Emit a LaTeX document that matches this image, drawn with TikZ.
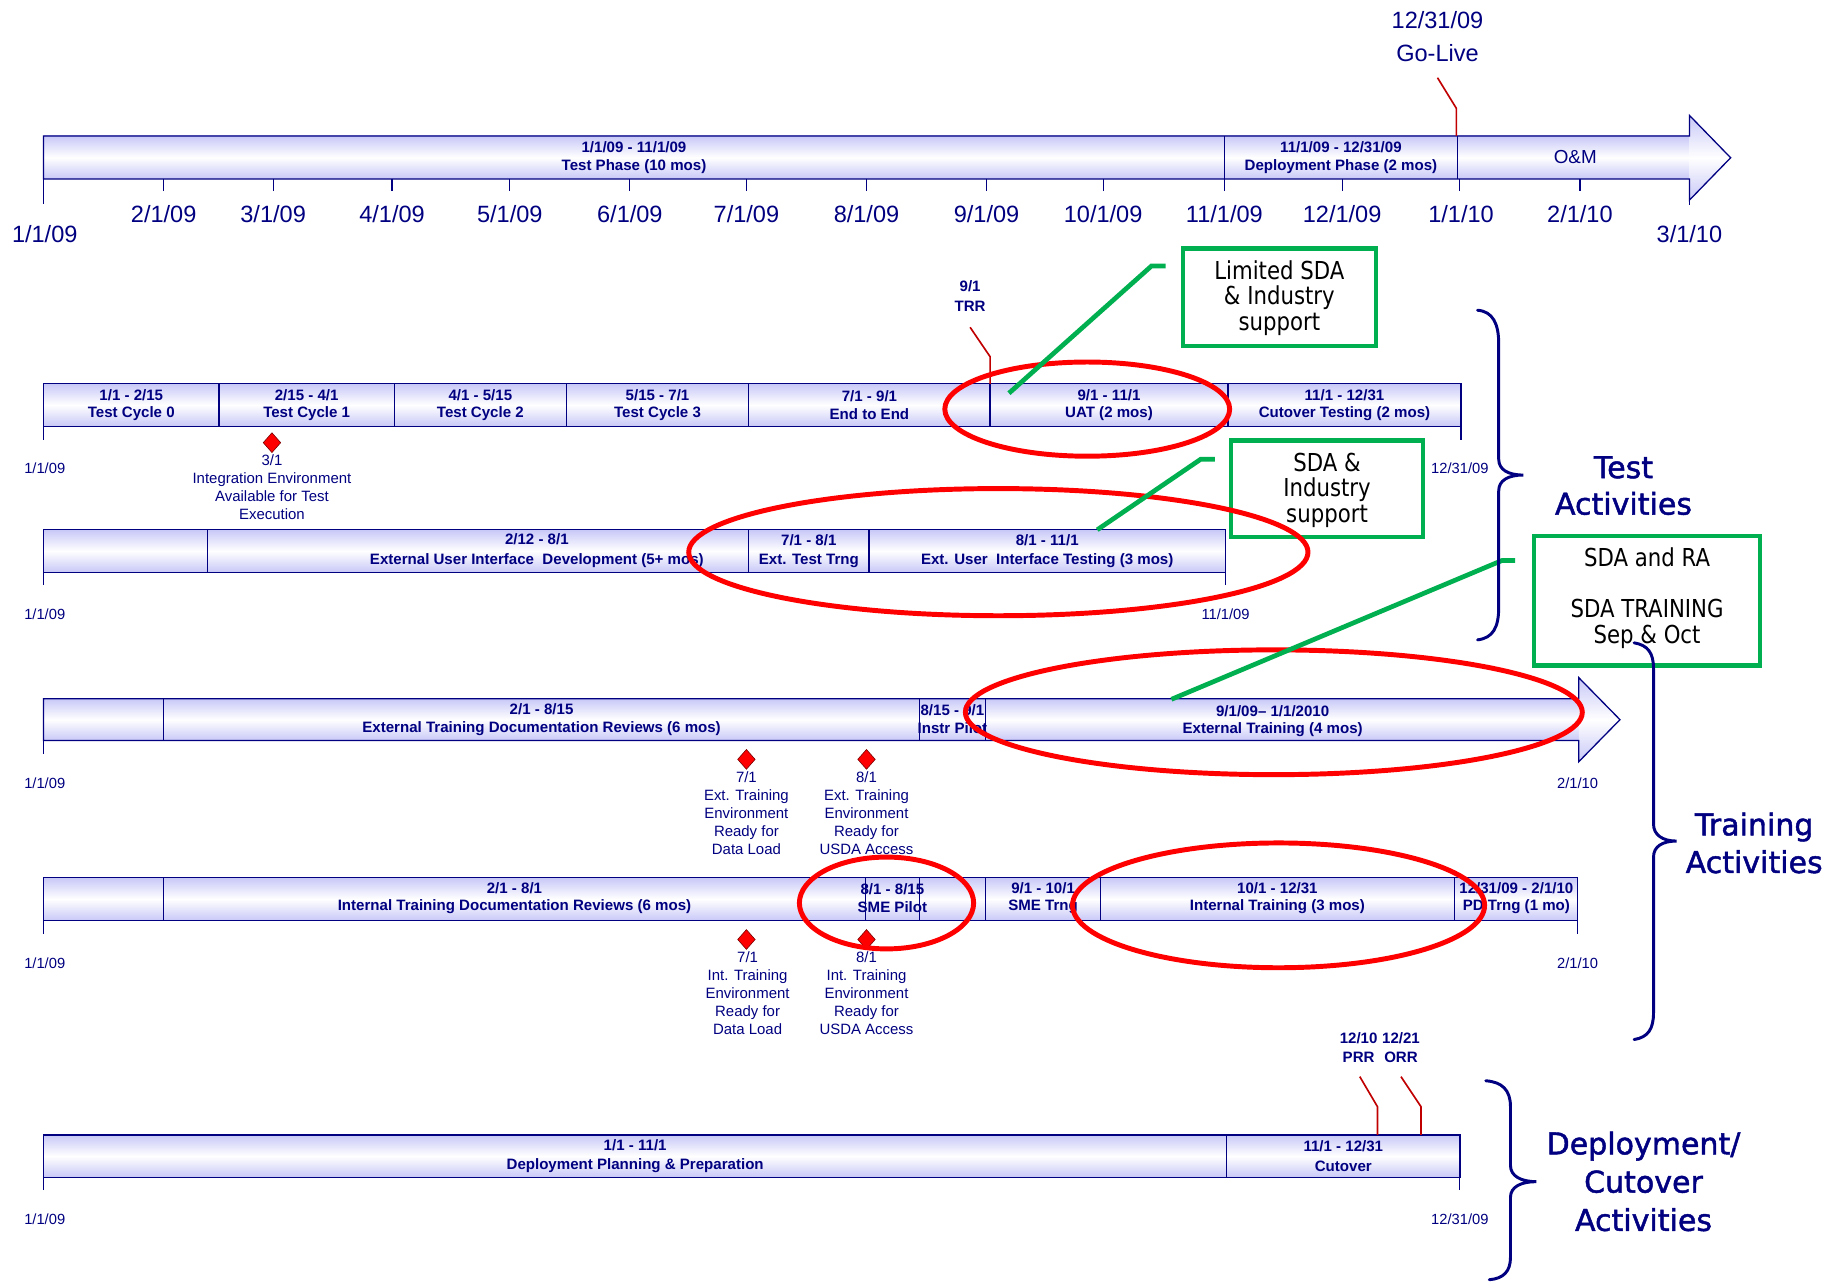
\documentclass[tikz,border=0pt]{standalone}
\usepackage{fontspec}
\setmainfont{Liberation Sans}
\newfontfamily\boxfont[FakeStretch=0.86]{DejaVu Sans}
\newfontfamily\bracefont[FakeBold=1.5]{DejaVu Sans}
\usetikzlibrary{shapes.geometric}
\definecolor{navy}{RGB}{0,0,128}
\definecolor{lav}{RGB}{200,200,248}
\definecolor{dred}{RGB}{192,0,0}
\definecolor{ddred}{RGB}{120,0,0}
\definecolor{hlred}{RGB}{255,0,0}
\definecolor{hlgreen}{RGB}{0,176,80}
\tikzset{
  shd/.style={top color=lav, bottom color=lav, middle color=white},
  segbar/.style={draw=navy, line width=1.1pt, top color=lav, bottom color=lav, middle color=white},
  outl/.style={draw=navy, line width=1.1pt, line join=miter},
  divl/.style={draw=navy, line width=1pt},
  barlbl/.style={text=navy, font=\fontsize{12.8}{15}\selectfont\bfseries, align=center, inner sep=0pt},
  datelbl/.style={text=navy, font=\fontsize{12.5}{15}\selectfont, inner sep=0pt},
  bigdate/.style={text=navy, font=\fontsize{20}{26}\selectfont, inner sep=0pt, align=center},
  tickl/.style={draw=navy, line width=1pt},
  mline/.style={draw=dred, line width=1.4pt},
  mslbl/.style={text=navy, font=\fontsize{12.8}{16.5}\selectfont\bfseries, align=center, inner sep=0pt},
  diam/.style={diamond, fill=red, draw=ddred, line width=0.5pt, minimum width=15pt, minimum height=17pt, inner sep=0pt},
  mstext/.style={text=navy, font=\fontsize{12.7}{15.3}\selectfont, align=center, inner sep=0pt, anchor=north},
  hl/.style={draw=hlred, line width=4.2pt},
  gbox/.style={draw=hlgreen, line width=3.6pt, inner sep=0pt},
  gtext/.style={text=black, font=\boxfont\fontsize{21}{21.6}\selectfont, align=center, inner sep=0pt},
  gline/.style={draw=hlgreen, line width=4pt},
  bracel/.style={draw=navy, line width=2.5pt, line cap=round},
  bracelbl/.style={text=navy, font=\bracefont\fontsize{25.5}{31}\selectfont, align=center, inner sep=0pt}
}
\begin{document}
\begin{tikzpicture}[x=1pt,y=-1pt]
\useasboundingbox (0,0) rectangle (1568,1089);

% ===== top timeline =====
\path[shd] (37,115.5) rectangle (1436,152);
\path[shd] (1435,98) -- (1470,134) -- (1435,170) -- cycle;
\draw[outl] (37,115.5) -- (1435,115.5) -- (1435,98) -- (1470,134) -- (1435,170) -- (1435,152) -- (37,152) -- cycle;
\draw[divl] (1040,115.5) -- (1040,152);
\draw[divl] (1238,115.5) -- (1238,152);
\foreach \x in {139,232,333,433,535,634,736,838,937,1040,1140,1240,1342}
  \draw[tickl] (\x,152) -- (\x,162);
\draw[tickl] (37,152) -- (37,173);
\draw[tickl] (1435,170) -- (1435,174);
\node[barlbl] (tp) at (538.5,134) {1/1/09 - 11/1/09\\Test Phase (10 mos)};
\node[barlbl] (dp) at (1139,134) {11/1/09 - 12/31/09\\Deployment Phase (2 mos)};
\node[text=navy, font=\fontsize{16}{18}\selectfont, inner sep=0pt] (om) at (1338,133) {O\&M};

\node[bigdate] (d01) at (38,199) {1/1/09};
\node[bigdate] (d02) at (139,182) {2/1/09};
\node[bigdate] (d03) at (232,182) {3/1/09};
\node[bigdate] (d04) at (333,182) {4/1/09};
\node[bigdate] (d05) at (433,182) {5/1/09};
\node[bigdate] (d06) at (535,182) {6/1/09};
\node[bigdate] (d07) at (634,182) {7/1/09};
\node[bigdate] (d08) at (736,182) {8/1/09};
\node[bigdate] (d09) at (838,182) {9/1/09};
\node[bigdate] (d10) at (937,182) {10/1/09};
\node[bigdate] (d11) at (1040,182) {11/1/09};
\node[bigdate] (d12) at (1140,182) {12/1/09};
\node[bigdate] (d13) at (1241,182) {1/1/10};
\node[bigdate] (d14) at (1342,182) {2/1/10};
\node[bigdate] (d15) at (1435,199) {3/1/10};

% Go-Live
\node[bigdate, font=\fontsize{20}{27.5}\selectfont] (golive) at (1221,31) {12/31/09\\Go-Live};
\coordinate (gl1) at (1221,66);
\coordinate (gl2) at (1237,92);
\coordinate (gl3) at (1237,115.5);
\draw[mline] (gl1) -- (gl2) -- (gl3);

% ===== row 1: test cycles =====
\foreach \a/\b in {37/186,186/335,335/481,481/636,636/841,841/1043,1043/1241}
  \path[segbar] (\a,326) rectangle (\b,362);
\draw[tickl] (37,362) -- (37,374);
\draw[tickl] (1241,362) -- (1241,374);
\node[barlbl] (tc0) at (111.5,344) {1/1 - 2/15\\Test Cycle 0};
\node[barlbl] (tc1) at (260.5,344) {2/15 - 4/1\\Test Cycle 1};
\node[barlbl] (tc2) at (408,344) {4/1 - 5/15\\Test Cycle 2};
\node[barlbl] (tc3) at (558.5,344) {5/15 - 7/1\\Test Cycle 3};
\node[barlbl] (e2e) at (738.5,344) {7/1 - 9/1\\End to End};
\node[barlbl] (uat) at (942,344) {9/1 - 11/1\\UAT (2 mos)};
\node[barlbl] (cot) at (1142,344) {11/1 - 12/31\\Cutover Testing (2 mos)};
\node[datelbl] (r1a) at (38,398) {1/1/09};
\node[datelbl] (r1b) at (1240,398) {12/31/09};
\node[mslbl] (trr) at (824,251.5) {9/1\\TRR};
\coordinate (tr1) at (824,278);
\coordinate (tr2) at (841,303);
\coordinate (tr3) at (841,326);
\draw[mline] (tr1) -- (tr2) -- (tr3);
\node[diam] (ms1) at (231,376) {};
\node[mstext] (ms1t) at (231,386) {3/1\\Integration Environment\\Available for Test\\Execution};

% ===== row 2: external UI =====
\foreach \a/\b in {37/176,176/636,636/738,738/1041}
  \path[segbar] (\a,450) rectangle (\b,486);
\draw[tickl] (37,486) -- (37,497);
\draw[tickl] (1041,486) -- (1041,497);
\node[barlbl, font=\fontsize{12.8}{17}\selectfont\bfseries] (eui) at (456,468) {2/12 - 8/1\\External User Interface\ \ Development (5+ mos)};
\node[barlbl, font=\fontsize{12.8}{16}\selectfont\bfseries] (ett) at (687,468) {7/1 - 8/1\\Ext. Test Trng};
\node[barlbl, font=\fontsize{12.8}{16}\selectfont\bfseries] (euit) at (889.5,468) {8/1 - 11/1\\Ext. User\ \ Interface Testing (3 mos)};
\node[datelbl] (r2a) at (38,522) {1/1/09};
\node[datelbl] (r2b) at (1041,522) {11/1/09};

% ===== row 3: external training (arrow) =====
\path[shd] (37,593.5) rectangle (1342,629);
\path[shd] (1341,575.6) -- (1376,611.3) -- (1341,647) -- cycle;
\draw[outl] (37,593.5) -- (1341,593.5) -- (1341,575.6) -- (1376,611.3) -- (1341,647) -- (1341,629) -- (37,629) -- cycle;
\foreach \x in {139,781,837} \draw[divl] (\x,593.5) -- (\x,629);
\draw[tickl] (37,629) -- (37,640.5);
\node[barlbl] (etd) at (460,611) {2/1 - 8/15\\External Training Documentation Reviews (6 mos)};
\node[barlbl] (ip) at (809,611) {8/15 - 9/1\\Instr Pilot};
\node[barlbl] (ext) at (1081,612.5) {9/1/09-- 1/1/2010\\External Training (4 mos)};
\node[datelbl] (r3a) at (38,665) {1/1/09};
\node[datelbl] (r3b) at (1340,665) {2/1/10};
\node[diam] (ms2) at (634,645) {};
\node[mstext] (ms2t) at (634,655.5) {7/1\\Ext. Training\\Environment\\Ready for\\Data Load};
\node[diam] (ms3) at (736,645) {};
\node[mstext] (ms3t) at (736,655.5) {8/1\\Ext. Training\\Environment\\Ready for\\USDA Access};

% ===== row 4: internal training =====
\foreach \a/\b in {37/139,139/735,735/781,781/837,837/935,935/1235.5,1235.5/1340}
  \path[segbar] (\a,745.5) rectangle (\b,782);
\draw[tickl] (37,782) -- (37,793);
\draw[tickl] (1340,782) -- (1340,793);
\node[barlbl] (itd) at (437,763) {2/1 - 8/1\\Internal Training Documentation Reviews (6 mos)};
\node[barlbl] (smep) at (758,763) {8/1 - 8/15\\SME Pilot};
\node[barlbl] (smet) at (886,763) {9/1 - 10/1\\SME Trng};
\node[barlbl] (intt) at (1085,763) {10/1 - 12/31\\Internal Training (3 mos)};
\node[barlbl] (pdt) at (1288,763) {12/31/09 - 2/1/10\\PD Trng (1 mo)};
\node[datelbl] (r4a) at (38,818) {1/1/09};
\node[datelbl] (r4b) at (1340,818) {2/1/10};
\node[diam] (ms4) at (634,798) {};
\node[mstext] (ms4t) at (635,808.5) {7/1\\Int. Training\\Environment\\Ready for\\Data Load};
\node[diam] (ms5) at (736,798) {};
\node[mstext] (ms5t) at (736,808.5) {8/1\\Int. Training\\Environment\\Ready for\\USDA Access};

% ===== row 5: deployment =====
\foreach \a/\b in {37/1042,1042/1240}
  \path[segbar] (\a,964) rectangle (\b,1000);
\draw[tickl] (37,1000) -- (37,1011);
\draw[tickl] (1240,1000) -- (1240,1011);
\node[barlbl, font=\fontsize{12.8}{16.5}\selectfont\bfseries] (dpp) at (539.5,982) {1/1 - 11/1\\Deployment Planning \& Preparation};
\node[barlbl, font=\fontsize{12.8}{16.5}\selectfont\bfseries] (cut) at (1141,982) {11/1 - 12/31\\Cutover};
\node[datelbl] (r5a) at (38,1036) {1/1/09};
\node[datelbl] (r5b) at (1240,1036) {12/31/09};
\node[mslbl] (prr) at (1154,890) {12/10\\PRR};
\node[mslbl] (orr) at (1190,890) {12/21\\ORR};
\coordinate (pr1) at (1155,914.5);
\coordinate (pr2) at (1170,940);
\coordinate (pr3) at (1170,964);
\coordinate (or1) at (1190,914.5);
\coordinate (or2) at (1207,940);
\coordinate (or3) at (1207,964);
\draw[mline] (pr1) -- (pr2) -- (pr3);
\draw[mline] (or1) -- (or2) -- (or3);

% ===== green boxes =====
\node[gbox, minimum width=164pt, minimum height=83pt] (gb1) at (1086.7,252.5) {};
\node[gtext] (gb1t) at (1086.7,253) {Limited SDA\\\& Industry\\support};
\node[gbox, minimum width=163pt, minimum height=82pt] (gb2) at (1127.2,415.2) {};
\node[gtext] (gb2t) at (1127.2,416.5) {SDA \&\\Industry\\support};
\node[gbox, minimum width=192pt, minimum height=110pt] (gb3) at (1399,510.2) {};
\node[gtext] (gb3t) at (1399,508) {SDA and RA\\\mbox{}\\SDA TRAINING\\Sep \& Oct};

% ===== red highlight ellipses =====
\draw[hl] (923.5,347.5) ellipse [x radius=121pt, y radius=40pt];
\draw[hl] (848,469) ellipse [x radius=263pt, y radius=54pt];
\draw[hl] (1082,605) ellipse [x radius=262pt, y radius=53pt];
\draw[hl] (753,767) ellipse [x radius=74pt, y radius=39pt];
\draw[hl] (1086,769) ellipse [x radius=175pt, y radius=53pt];

% ===== green connectors =====
\coordinate (g1a) at (990,226);
\coordinate (g1b) at (978,226);
\coordinate (g1c) at (857,334);
\draw[gline] (g1a) -- (g1b) -- (g1c);
\coordinate (g2a) at (1032,390);
\coordinate (g2b) at (1020,390);
\coordinate (g2c) at (932,450);
\draw[gline] (g2a) -- (g2b) -- (g2c);
\coordinate (g3a) at (1287,476);
\coordinate (g3b) at (1276,476);
\coordinate (g3c) at (995,594);
\draw[gline] (g3a) -- (g3b) -- (g3c);

% ===== braces =====
\draw[bracel] (1255,263.5) .. controls (1268,264.5) and (1273,275) .. (1273,292)
  -- (1273,390) .. controls (1273,399) and (1281,403.5) .. (1294,403.5)
  .. controls (1281,403.5) and (1273,408) .. (1273,417)
  -- (1273,516) .. controls (1273,533) and (1268,542) .. (1255,543.5);
\node[bracelbl] (testact) at (1379,412.5) {Test\\Activities};

\draw[bracel] (1388,546) .. controls (1400,548) and (1404.5,555) .. (1404.5,568)
  -- (1404.5,700) .. controls (1404.5,709) and (1412,714.4) .. (1424,714.4)
  .. controls (1412,714.4) and (1404.5,719) .. (1404.5,728)
  -- (1404.5,860) .. controls (1404.5,874) and (1400,881) .. (1388,883);
\node[bracelbl, font=\bracefont\fontsize{25.5}{32}\selectfont] (trainact) at (1490,716) {Training\\Activities};

\draw[bracel] (1262,918) .. controls (1276,919) and (1283,926) .. (1283,940)
  -- (1283,990) .. controls (1283,999) and (1292,1003.7) .. (1305,1003.7)
  .. controls (1292,1003.7) and (1283,1008) .. (1283,1017)
  -- (1283,1068) .. controls (1283,1080) and (1277,1086) .. (1265,1087);
\node[bracelbl, font=\bracefont\fontsize{25.5}{32.5}\selectfont] (depact) at (1396,1003.5) {Deployment/\\Cutover\\Activities};

\end{tikzpicture}
\end{document}
